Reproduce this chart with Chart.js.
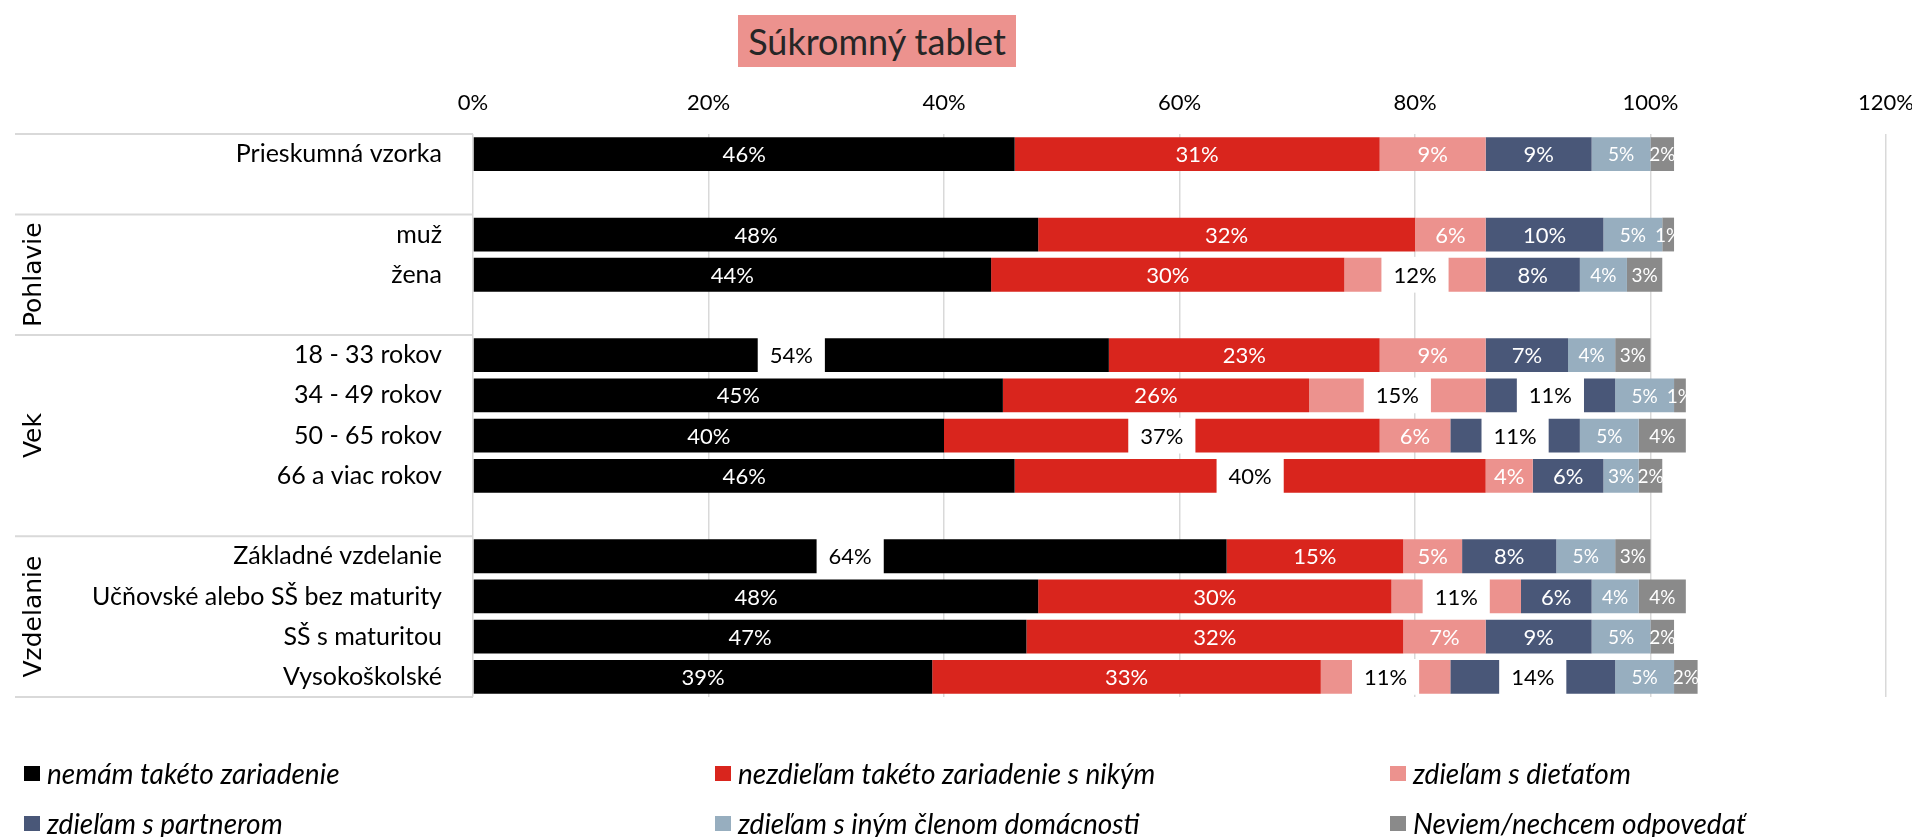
<!DOCTYPE html>
<html>
<head>
<meta charset="utf-8">
<script src="https://cdn.jsdelivr.net/npm/chart.js@4.4.1/dist/chart.umd.min.js"></script>
<style>
  body { margin: 0; background: #fff; overflow: hidden; }
  #wrap { position: relative; width: 1912px; height: 837px; }
  #myChart { position: absolute; left: 0; top: 0; }
  #title {
    position: absolute; left: 738px; top: 15px; width: 278px; height: 52px;
    background: rgb(236, 146, 142); color: #262626;
    font: 36px Lato, sans-serif; text-align: center; line-height: 52px;
  }
  #legend { position: absolute; left: 0; top: 0; width: 1912px; height: 837px; pointer-events: none; }
  .lg { position: absolute; display: flex; align-items: center; font: italic 28px Lato, sans-serif; color: #000; }
  .lg span.box { display: inline-block; width: 16px; height: 15px; margin-right: 7px; }
</style>
</head>
<body>
<div id="wrap">
  <canvas id="myChart" width="1912" height="837"></canvas>
  <div id="title">Súkromný tablet</div>
  <div id="legend"></div>
</div>
<script>
const categories = ['Prieskumná vzorka', '', 'muž', 'žena', '', '18 - 33 rokov', '34 - 49 rokov', '50 - 65 rokov', '66 a viac rokov', '', 'Základné vzdelanie', 'Učňovské alebo SŠ bez maturity', 'SŠ s maturitou', 'Vysokoškolské'];

const seriesNames = ['nemám takéto zariadenie', 'nezdieľam takéto zariadenie s nikým', 'zdieľam s dieťaťom', 'zdieľam s partnerom', 'zdieľam s iným členom domácnosti', 'Neviem/nechcem odpovedať'];

const nemam     = [46, null, 48, 44, null, 54, 45, 40, 46, null, 64, 48, 47, 39];
const nezdielam = [31, null, 32, 30, null, 23, 26, 37, 40, null, 15, 30, 32, 33];
const dieta     = [9,  null, 6,  12, null, 9,  15, 6,  4,  null, 5,  11, 7,  11];
const partner   = [9,  null, 10, 8,  null, 7,  11, 11, 6,  null, 8,  6,  9,  14];
const iny       = [5,  null, 5,  4,  null, 4,  5,  5,  3,  null, 5,  4,  5,  5];
const neviem    = [2,  null, 1,  3,  null, 3,  1,  4,  2,  null, 3,  4,  2,  2];

const xTicks = [0, 20, 40, 60, 80, 100, 120];

const groupNames = ['Pohlavie', 'Vek', 'Vzdelanie'];
const groupFirst = [2, 5, 10];
const groupLast = [4, 9, 13];

// labels shown black on a white box: [series, row]
const boxedLabels = [[0, 5], [2, 3], [2, 6], [3, 6], [1, 7], [3, 7], [1, 8], [0, 10], [2, 11], [2, 13], [3, 13]];

const colors = ['#000000', 'rgb(217, 37, 29)', 'rgb(236, 146, 142)', 'rgb(73, 87, 120)', 'rgb(151, 174, 191)', 'rgb(138, 138, 138)'];
const labelSizes = [22, 22, 22, 22, 19, 19];

const allSeries = [nemam, nezdielam, dieta, partner, iny, neviem];

const barLabels = {
  id: 'barLabels',
  afterDatasetsDraw(chart) {
    const c = chart.ctx;
    c.save();
    c.textAlign = 'center';
    c.textBaseline = 'middle';
    chart.data.datasets.forEach((ds, di) => {
      const meta = chart.getDatasetMeta(di);
      meta.data.forEach((bar, i) => {
        const v = ds.data[i];
        if (v === null || v === undefined) return;
        const p = bar.getProps(['x', 'y', 'base', 'height'], true);
        const cx = (p.x + p.base) / 2;
        const txt = v + '%';
        c.font = labelSizes[di] + 'px Lato, sans-serif';
        const boxed = boxedLabels.some(b => b[0] === di && b[1] === i);
        if (boxed) {
          const w = c.measureText(txt).width + 24;
          c.fillStyle = '#fff';
          c.fillRect(cx - w / 2, p.y - p.height / 2 - 1, w, p.height + 2);
          c.fillStyle = '#000';
        } else {
          c.fillStyle = '#fff';
        }
        c.fillText(txt, cx, p.y + 1);
      });
    });
    c.restore();
  }
};

const leftTable = {
  id: 'leftTable',
  beforeDatasetsDraw(chart) {
    const c = chart.ctx;
    const y = chart.scales.y;
    const step = y.getPixelForValue(1) - y.getPixelForValue(0);
    const top = i => y.getPixelForValue(i) - step / 2;
    const bottom = i => y.getPixelForValue(i) + step / 2;
    const left = 15, right = chart.chartArea.left;
    c.save();
    c.strokeStyle = '#d9d9d9';
    c.lineWidth = 2;
    const lines = [top(0)].concat(groupFirst.map(top), [bottom(groupLast[groupLast.length - 1])]);
    lines.forEach(ly => {
      c.beginPath();
      c.moveTo(left, ly);
      c.lineTo(right, ly);
      c.stroke();
    });
    c.fillStyle = '#000';
    c.font = '25px "DejaVu Sans", sans-serif';
    c.textAlign = 'center';
    c.textBaseline = 'middle';
    groupNames.forEach((g, k) => {
      const cy = (top(groupFirst[k]) + bottom(groupLast[k])) / 2;
      c.save();
      c.translate(34, cy);
      c.rotate(-Math.PI / 2);
      c.fillText(g, 0, 0);
      c.restore();
    });
    c.restore();
  }
};

const ctx = document.getElementById('myChart');

const chart = new Chart(ctx, {
  type: 'bar',
  data: {
    labels: categories,
    datasets: seriesNames.map((name, i) => ({
      label: name,
      data: allSeries[i],
      backgroundColor: colors[i],
      borderWidth: 0,
      barPercentage: 0.84,
      categoryPercentage: 1.0
    }))
  },
  options: {
    responsive: false,
    animation: false,
    indexAxis: 'y',
    layout: {
      padding: { left: 15, top: 74, right: 10, bottom: 140 }
    },
    plugins: {
      legend: { display: false },
      tooltip: { enabled: false }
    },
    scales: {
      x: {
        position: 'top',
        stacked: true,
        min: 0,
        max: 120,
        afterBuildTicks: scale => { scale.ticks = xTicks.map(v => ({ value: v })); },
        afterFit: scale => { scale.height = 60; scale.paddingRight = 26; },
        grid: { color: '#d9d9d9', lineWidth: 1.5, drawTicks: false },
        border: { display: false },
        ticks: {
          padding: 18,
          color: '#000',
          font: { family: 'Lato', size: 22 },
          callback: v => v + '%'
        }
      },
      y: {
        stacked: true,
        afterFit: scale => { scale.width = 458; },
        grid: { display: false, drawTicks: false },
        border: { display: false },
        ticks: {
          padding: 31,
          color: '#000',
          font: { family: 'Lato', size: 25 },
          autoSkip: false
        }
      }
    }
  },
  plugins: [leftTable, barLabels]
});

// legend, three columns in two rows
const legendEl = document.getElementById('legend');
const colX = [24, 715, 1390];
const rowY = [773, 823];
chart.data.datasets.forEach((ds, i) => {
  const d = document.createElement('div');
  d.className = 'lg';
  d.style.left = colX[i % 3] + 'px';
  d.style.top = (rowY[Math.floor(i / 3)] - 17) + 'px';
  d.style.height = '34px';
  d.innerHTML = '<span class="box" style="background:' + ds.backgroundColor + '"></span>' + ds.label;
  legendEl.appendChild(d);
});
</script>
</body>
</html>
